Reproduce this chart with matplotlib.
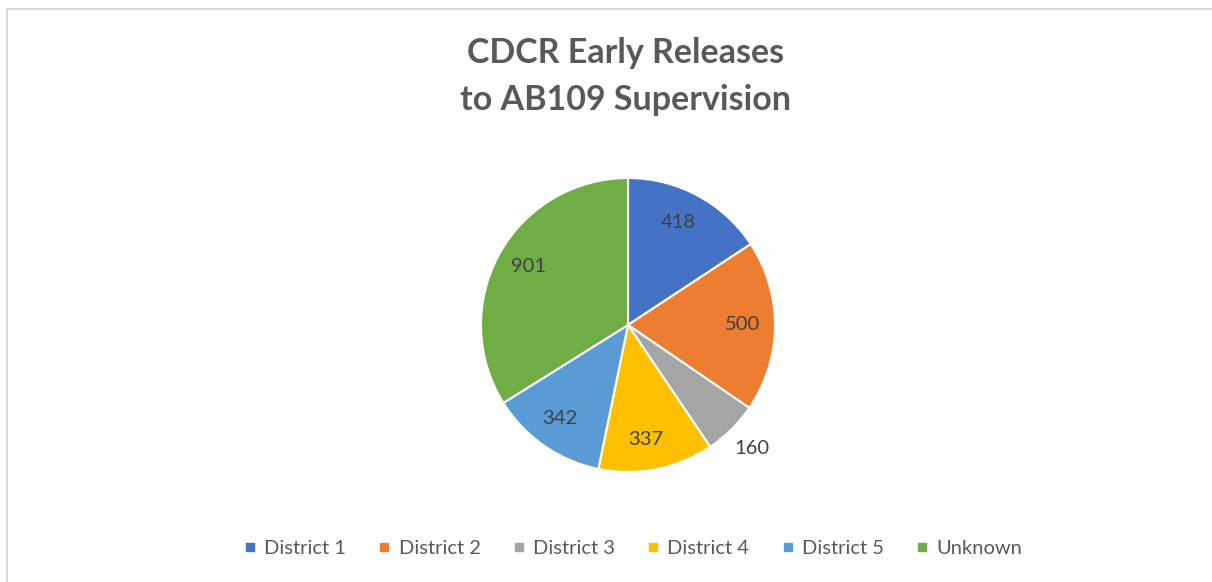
import matplotlib.pyplot as plt
from matplotlib.lines import Line2D

districts = ['District 1', 'District 2', 'District 3', 'District 4', 'District 5', 'Unknown']
releases = [418, 500, 160, 337, 342, 901]
colors = ['#4472C4', '#ED7D31', '#A5A5A5', '#FFC000', '#5B9BD5', '#70AD47']
# where Excel put each data label, in units of the pie radius
label_xy = [(0.34, 0.694), (0.776, 0.0), (0.844, -0.837),
            (0.122, -0.782), (-0.463, -0.633), (-0.68, 0.395)]

plt.rcParams['font.family'] = ['Lato', 'DejaVu Sans']

W, H = 1212, 582
fig = plt.figure(figsize=(W / 100, H / 100), dpi=100)

# pie centre (628, 325) px from top-left, radius 147 px
cx, cy, r = 628, 325, 147
ax = fig.add_axes([(cx - r) / W, (H - cy - r) / H, 2 * r / W, 2 * r / H])
wedges, texts = ax.pie(releases, colors=colors, startangle=90, counterclock=False,
                       wedgeprops=dict(edgecolor='white', linewidth=1.5))
for v, (x, y) in zip(releases, label_xy):
    ax.text(x, y, str(v), ha='center', va='center', fontsize=14.5, color='#404040')
ax.set_xlim(-1, 1)
ax.set_ylim(-1, 1)
ax.set_aspect('auto')
ax.axis('off')

fig.text(626 / W, 1 - 53 / H, 'CDCR Early Releases', ha='center', va='center',
         fontsize=24.5, fontweight='bold', color='#595959')
fig.text(626 / W, 1 - 100 / H, 'to AB109 Supervision', ha='center', va='center',
         fontsize=24.5, fontweight='bold', color='#595959')

handles = [Line2D([], [], marker='s', linestyle='', markersize=6, color=c) for c in colors]
fig.legend(handles, districts, loc='center', bbox_to_anchor=(632 / W, 1 - 548 / H), ncol=6,
           frameon=False, fontsize=14.5, labelcolor='#595959', handletextpad=0.3,
           columnspacing=1.5, handlelength=0.8)

# light frame lines along top and left
fig.add_artist(Line2D([7 / W, 1], [1 - 9 / H, 1 - 9 / H], color='#d9d9d9', lw=1.5))
fig.add_artist(Line2D([7 / W, 7 / W], [0, 1 - 9 / H], color='#d9d9d9', lw=1.5))

fig.savefig('out.png', dpi=100)
